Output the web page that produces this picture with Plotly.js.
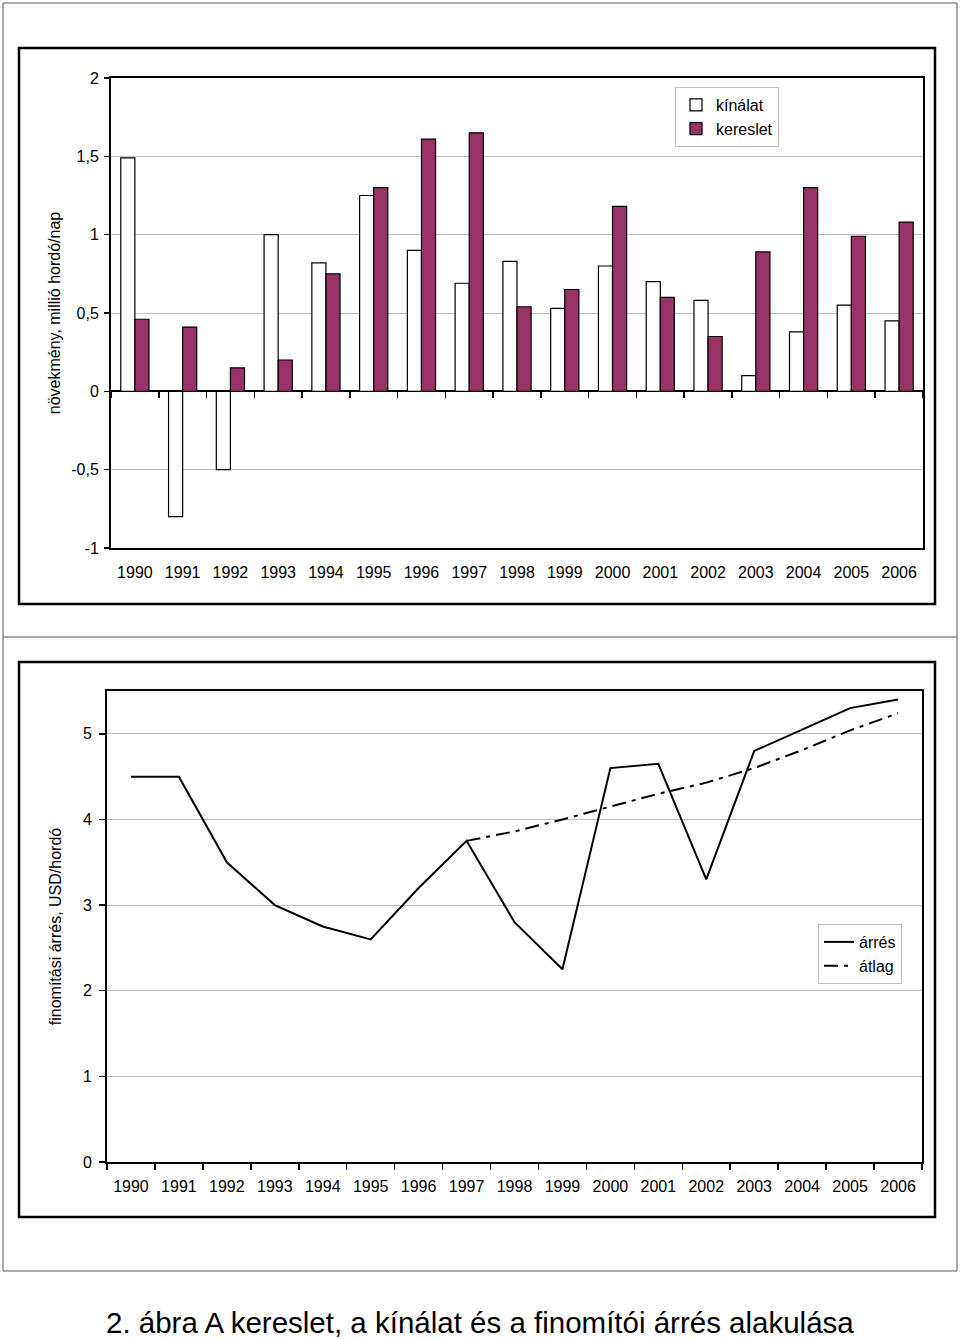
<!DOCTYPE html>
<html>
<head>
<meta charset="utf-8">
<script src="https://cdn.plot.ly/plotly-3.0.1.min.js"></script>
<style>
  html, body { margin: 0; padding: 0; background: #fff; }
  #chart { width: 960px; height: 1339px; }
</style>
</head>
<body>
<div id="chart"></div>
<script>
// ---- data ----
const years = ['1990','1991','1992','1993','1994','1995','1996','1997','1998','1999','2000','2001','2002','2003','2004','2005','2006'];
const kinalat  = [1.49, -0.80, -0.50, 1.00, 0.82, 1.25, 0.90, 0.69, 0.83, 0.53, 0.80, 0.70, 0.58, 0.10, 0.38, 0.55, 0.45];
const kereslet = [0.46, 0.41, 0.15, 0.20, 0.75, 1.30, 1.61, 1.65, 0.54, 0.65, 1.18, 0.60, 0.35, 0.89, 1.30, 0.99, 1.08];
const arresYears = years;
const arres = [4.5, 4.5, 3.5, 3.0, 2.75, 2.6, 3.2, 3.75, 2.8, 2.25, 4.6, 4.65, 3.3, 4.8, 5.05, 5.3, 5.4];
const atlagYears = ['1997','1998','1999','2000','2001','2002','2003','2004','2005','2006'];
const atlag = [3.75, 3.86, 4.0, 4.15, 4.3, 4.43, 4.6, 4.81, 5.04, 5.24];
const topYTickVals = [-1, -0.5, 0, 0.5, 1, 1.5, 2];
const topYTickText = ['-1', '-0,5', '0', '0,5', '1', '1,5', '2'];
const botYTickVals = [0, 1, 2, 3, 4, 5];
const botYTickText = ['0', '1', '2', '3', '4', '5'];
const topTitle = 'növekmény, millió hordó/nap';
const botTitle = 'finomítási árrés, USD/hordó';
const caption = '2. ábra A kereslet, a kínálat és a finomítói árrés alakulása';

// ---- geometry helpers (page pixels -> paper) ----
const W = 960, H = 1339;
const px = x => x / W;
const py = y => 1 - y / H;
const FONT = '"Liberation Sans", Arial, Helvetica, sans-serif';
const catRange = [-0.5, years.length - 0.5];

const topYRange = [-1, 2];
const topYDomain = [py(548), py(78)];
const zeroPos = topYDomain[0] + (0 - topYRange[0]) / (topYRange[1] - topYRange[0]) * (topYDomain[1] - topYDomain[0]);

const traces = [
  { type: 'bar', name: 'kínálat', x: years, y: kinalat, xaxis: 'x', yaxis: 'y',
    marker: { color: '#ffffff', line: { color: '#000000', width: 1.2 } }, legend: 'legend' },
  { type: 'bar', name: 'kereslet', x: years, y: kereslet, xaxis: 'x', yaxis: 'y',
    marker: { color: '#993366', line: { color: '#000000', width: 1.2 } }, legend: 'legend' },
  // carrier for the zero-line tick axis (invisible)
  { type: 'scatter', mode: 'markers', x: years, y: years.map(() => 0), xaxis: 'x2', yaxis: 'y',
    marker: { opacity: 0, size: 1 }, showlegend: false, hoverinfo: 'skip' },
  { type: 'scatter', mode: 'lines', name: 'árrés', x: arresYears, y: arres, xaxis: 'x3', yaxis: 'y3',
    line: { color: '#000000', width: 2 }, legend: 'legend2' },
  { type: 'scatter', mode: 'lines', name: 'átlag', x: atlagYears, y: atlag, xaxis: 'x3', yaxis: 'y3',
    line: { color: '#000000', width: 2, dash: '14px,6px,4px,6px' }, legend: 'legend2' }
];

const layout = {
  width: W, height: H,
  margin: { l: 0, r: 0, t: 0, b: 0 },
  paper_bgcolor: '#ffffff', plot_bgcolor: '#ffffff',
  font: { family: FONT, size: 16, color: '#000000' },
  barmode: 'group', bargap: 0.41, bargroupgap: 0,
  showlegend: true,
  xaxis: {
    type: 'category', categoryorder: 'array', categoryarray: years, range: catRange,
    domain: [px(111), px(923)], anchor: 'y',
    showline: true, linecolor: '#000000', linewidth: 2, mirror: true,
    ticks: '', showgrid: false, zeroline: false,
    ticklabelstandoff: 9,
    tickfont: { family: FONT, size: 16, color: '#000000' }
  },
  xaxis2: {
    type: 'category', categoryorder: 'array', categoryarray: years, range: catRange,
    overlaying: 'x', anchor: 'free', position: zeroPos,
    domain: [px(111), px(923)],
    showline: false, showgrid: false, zeroline: false,
    showticklabels: false, ticks: 'outside', tickson: 'boundaries',
    ticklen: 6, tickwidth: 1.5, tickcolor: '#000000'
  },
  yaxis: {
    domain: topYDomain, anchor: 'x', range: topYRange,
    tickvals: topYTickVals, ticktext: topYTickText,
    showline: true, linecolor: '#000000', linewidth: 2, mirror: true,
    ticks: 'outside', ticklen: 5, tickwidth: 1.5, tickcolor: '#000000',
    ticklabelstandoff: 2,
    showgrid: true, gridcolor: '#c0c0c0', gridwidth: 1,
    zeroline: true, zerolinecolor: '#000000', zerolinewidth: 2,
    tickfont: { family: FONT, size: 16, color: '#000000' },
    title: { text: topTitle, standoff: 7, font: { family: FONT, size: 16, color: '#000000' } }
  },
  xaxis3: {
    type: 'category', categoryorder: 'array', categoryarray: years, range: catRange,
    domain: [px(107), px(922)], anchor: 'y3',
    showline: true, linecolor: '#000000', linewidth: 2, mirror: true,
    ticks: 'outside', tickson: 'boundaries', ticklen: 6, tickwidth: 1.5, tickcolor: '#000000',
    showgrid: false, zeroline: false,
    ticklabelstandoff: 9,
    tickfont: { family: FONT, size: 16, color: '#000000' }
  },
  yaxis3: {
    domain: [py(1162), py(691)], anchor: 'x3', range: [0, 5.5],
    tickvals: botYTickVals, ticktext: botYTickText,
    showline: true, linecolor: '#000000', linewidth: 2, mirror: true,
    ticks: 'outside', ticklen: 6, tickwidth: 1.5, tickcolor: '#000000',
    ticklabelstandoff: 4,
    showgrid: true, gridcolor: '#c0c0c0', gridwidth: 1,
    zeroline: false,
    tickfont: { family: FONT, size: 16, color: '#000000' },
    title: { text: botTitle, standoff: 17, font: { family: FONT, size: 16, color: '#000000' } }
  },
  legend: {
    x: px(779), xanchor: 'right', y: py(87), yanchor: 'top',
    bgcolor: '#ffffff', bordercolor: '#c0c0c0', borderwidth: 1,
    font: { family: FONT, size: 16, color: '#000000' },
    traceorder: 'normal', itemwidth: 30
  },
  legend2: {
    x: px(902), xanchor: 'right', y: py(924), yanchor: 'top',
    bgcolor: '#ffffff', bordercolor: '#c0c0c0', borderwidth: 1,
    font: { family: FONT, size: 16, color: '#000000' },
    traceorder: 'normal', itemwidth: 30
  },
  shapes: [
    // outer page frame
    { type: 'rect', xref: 'paper', yref: 'paper', x0: px(3), x1: px(957), y0: py(1271), y1: py(3),
      line: { color: '#555555', width: 1 }, layer: 'below' },
    // divider between the two chart panels
    { type: 'line', xref: 'paper', yref: 'paper', x0: px(3), x1: px(957), y0: py(637), y1: py(637),
      line: { color: '#555555', width: 1 }, layer: 'below' },
    // top chart frame
    { type: 'rect', xref: 'paper', yref: 'paper', x0: px(19), x1: px(935), y0: py(604), y1: py(48),
      line: { color: '#000000', width: 2.5 }, layer: 'below' },
    // bottom chart frame
    { type: 'rect', xref: 'paper', yref: 'paper', x0: px(19), x1: px(935), y0: py(1217), y1: py(662),
      line: { color: '#000000', width: 2.5 }, layer: 'below' }
  ],
  annotations: [
    { text: caption, xref: 'paper', yref: 'paper', x: 0.5, y: py(1322), xanchor: 'center', yanchor: 'middle',
      showarrow: false, font: { family: FONT, size: 29.5, color: '#000000' } }
  ]
};

Plotly.newPlot('chart', traces, layout, { staticPlot: true, displayModeBar: false });
</script>
</body>
</html>
